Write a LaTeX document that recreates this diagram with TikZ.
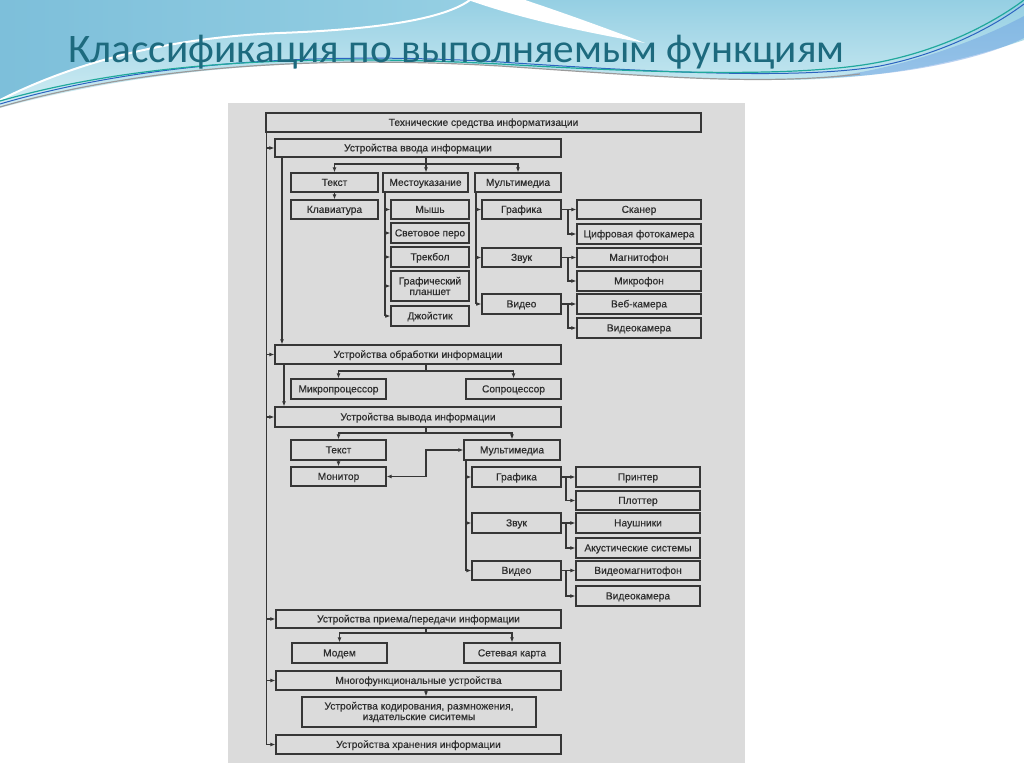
\documentclass[tikz,border=0pt]{standalone}
\usepackage{fontspec}
\setmainfont{Liberation Sans}
\newfontfamily\boxfont[FakeBold=0.4]{Liberation Sans}
\newfontfamily\titlefont{Carlito}
\usetikzlibrary{arrows.meta,calc}
\definecolor{panel}{HTML}{DBDBDB}
\definecolor{ink}{HTML}{363636}
\definecolor{txt}{HTML}{2E2E2E}
\definecolor{titlecol}{HTML}{1D6A7E}
\definecolor{bgdark}{HTML}{7DBFDA}
\definecolor{bgdark2}{HTML}{95CFE3}
\definecolor{bglight}{HTML}{B4E2EC}
\definecolor{wteal}{HTML}{20A89C}
\definecolor{wblue}{HTML}{2C63C0}
\definecolor{wgray}{HTML}{9A9A9A}
\begin{document}
\begin{tikzpicture}[x=1pt,y=-1pt,
  bx/.style={draw=ink, line width=1.25pt, fill=panel, inner sep=1pt, text=txt,
    font=\boxfont\fontsize{10.2}{10.5}\selectfont, text height=8.4pt, text depth=1.6pt},
  bx2/.style={draw=ink, line width=1.25pt, fill=panel, inner sep=1pt, text=txt,
    font=\boxfont\fontsize{10.2}{10.5}\selectfont, align=center},
  ln/.style={draw=ink, line width=1.2pt},
  arr/.style={ln, -{Latex[length=5pt,width=4pt]}},
  darr/.style={ln, {Latex[length=5pt,width=4pt]}-{Latex[length=5pt,width=4pt]}}]
\useasboundingbox (0,0) rectangle (1024,767);
\fill[white] (0,0) rectangle (1024,767);
% background decoration
\shade[top color=bgdark2, bottom color=bglight!60!white]
  (0,0) -- (1024,0) -- (1024,40) .. controls (960,62) and (880,80) .. (780,80)
  .. controls (650,80) and (520,64) .. (420,62) .. controls (250,60) and (120,76) .. (0,108) -- cycle;
\fill[white] (468,0) .. controls (525,20) and (585,32) .. (645,43)
  .. controls (595,24) and (555,10) .. (525,0) -- cycle;
\shade[left color=bgdark, right color=bgdark2]
  (0,0) -- (470,0) .. controls (440,22) and (360,30) .. (280,33)
  .. controls (160,38) and (70,65) .. (0,100) -- cycle;
\draw[white, line width=2pt] (470,0) .. controls (440,22) and (360,30) .. (280,33)
  .. controls (160,38) and (70,65) .. (0,100);
\fill[bgdark!80!blue, opacity=0.45] (820,78) .. controls (900,70) and (980,40) .. (1024,16)
  -- (1024,38) .. controls (980,60) and (900,76) .. (820,78) -- cycle;
\draw[wgray, line width=1.2pt] (0,107) .. controls (150,64) and (330,56) .. (500,66)
  .. controls (650,76) and (760,86) .. (860,74);
\draw[wblue, line width=1pt] (0,104) .. controls (150,60) and (330,52) .. (500,62)
  .. controls (650,72) and (800,80) .. (880,66) .. controls (950,52) and (1000,22) .. (1024,4);
\draw[wteal, line width=1.2pt] (0,101) .. controls (150,58) and (330,55) .. (500,64)
  .. controls (650,73) and (800,78) .. (880,62) .. controls (950,48) and (1000,18) .. (1024,0);
% title
\node[anchor=base west, text=titlecol, inner sep=0pt, xscale=1.02,
  font=\titlefont\fontsize{40.5}{40.5}\selectfont] (title) at (68,63) {Классификация по выполняемым функциям};
% panel
\fill[panel] (228,103) rectangle (745,763);
% boxes
\node[bx, minimum width=435, minimum height=19] (top) at (483.5,122.5) {Технические средства информатизации};
\node[bx, minimum width=286, minimum height=18] (vvod) at (418,148) {Устройства ввода информации};
\node[bx, minimum width=87, minimum height=19] (tekst1) at (334.5,182.5) {Текст};
\node[bx, minimum width=85, minimum height=19] (mesto) at (425.5,182.5) {Местоуказание};
\node[bx, minimum width=86, minimum height=19] (multi1) at (518,182.5) {Мультимедиа};
\node[bx, minimum width=87, minimum height=19] (klav) at (334.5,209.5) {Клавиатура};
\node[bx, minimum width=78, minimum height=19] (mysh) at (430,209.5) {Мышь};
\node[bx, minimum width=78, minimum height=20] (pero) at (430,233) {Световое перо};
\node[bx, minimum width=78, minimum height=20] (trek) at (430,257) {Трекбол};
\node[bx2, minimum width=78, minimum height=30] (plansh) at (430,286) {Графический\\планшет};
\node[bx, minimum width=78, minimum height=20] (joy) at (430,316) {Джойстик};
\node[bx, minimum width=79, minimum height=19] (graf1) at (521.5,209.5) {Графика};
\node[bx, minimum width=79, minimum height=19] (zvuk1) at (521.5,257.5) {Звук};
\node[bx, minimum width=79, minimum height=20] (video1) at (521.5,304) {Видео};
\node[bx, minimum width=124, minimum height=19] (scan) at (639,209.5) {Сканер};
\node[bx, minimum width=124, minimum height=20] (foto) at (639,234) {Цифровая фотокамера};
\node[bx, minimum width=124, minimum height=19] (magn) at (639,257.5) {Магнитофон};
\node[bx, minimum width=124, minimum height=20] (mikr) at (639,281) {Микрофон};
\node[bx, minimum width=124, minimum height=20] (web) at (639,304) {Веб-камера};
\node[bx, minimum width=124, minimum height=20] (vcam1) at (639,328) {Видеокамера};
\node[bx, minimum width=286, minimum height=19] (obr) at (418,354.5) {Устройства обработки информации};
\node[bx, minimum width=95, minimum height=20] (mp) at (338.5,389) {Микропроцессор};
\node[bx, minimum width=95, minimum height=20] (sp) at (513.5,389) {Сопроцессор};
\node[bx, minimum width=286, minimum height=20] (vyv) at (418,417) {Устройства вывода информации};
\node[bx, minimum width=95, minimum height=20] (tekst2) at (338.5,450) {Текст};
\node[bx, minimum width=96, minimum height=20] (multi2) at (512,450) {Мультимедиа};
\node[bx, minimum width=95, minimum height=19] (mon) at (338.5,476.5) {Монитор};
\node[bx, minimum width=89, minimum height=20] (graf2) at (516.5,477) {Графика};
\node[bx, minimum width=124, minimum height=20] (printer) at (638,477) {Принтер};
\node[bx, minimum width=124, minimum height=19] (plot) at (638,500.5) {Плоттер};
\node[bx, minimum width=89, minimum height=20] (zvuk2) at (516.5,523) {Звук};
\node[bx, minimum width=124, minimum height=20] (naush) at (638,523) {Наушники};
\node[bx, minimum width=124, minimum height=20] (akust) at (638,548) {Акустические системы};
\node[bx, minimum width=89, minimum height=19] (video2) at (516.5,570.5) {Видео};
\node[bx, minimum width=124, minimum height=19] (vmag) at (638,570.5) {Видеомагнитофон};
\node[bx, minimum width=124, minimum height=20] (vcam2) at (638,596) {Видеокамера};
\node[bx, minimum width=285, minimum height=18] (priem) at (418.5,619) {Устройства приема/передачи информации};
\node[bx, minimum width=95, minimum height=20] (modem) at (339.5,653) {Модем};
\node[bx, minimum width=96, minimum height=20] (set) at (512,653) {Сетевая карта};
\node[bx, minimum width=285, minimum height=19] (mnog) at (418.5,680.5) {Многофункциональные устройства};
\node[bx2, minimum width=234, minimum height=30] (kod) at (419,712) {Устройства кодирования, размножения,\\издательские сиситемы};
\node[bx, minimum width=285, minimum height=19] (hran) at (418.5,744.5) {Устройства хранения информации};
% junction coordinates
\coordinate (t0) at (266.5,132);
\coordinate (s0) at (282,157);
\coordinate (s1) at (284,364);
\coordinate (b1) at (426,164);
\coordinate (m0) at (385,192);
\coordinate (u0) at (476,192);
\coordinate (g1) at (568,209.5);
\coordinate (z1) at (568,257.5);
\coordinate (v1) at (568,304);
\coordinate (b2) at (426,371);
\coordinate (b3) at (426,433);
\coordinate (k0) at (426,476.5);
\coordinate (u1) at (466,460);
\coordinate (g2) at (566,477);
\coordinate (z2) at (566,523);
\coordinate (v2) at (566,570.5);
\coordinate (b4) at (426,633);
% main trunk
\draw[ln] (t0) -- (t0 |- hran.west);
\foreach \n in {vvod,obr,vyv,priem,mnog,hran}
  \draw[arr] (t0 |- \n.west) -- (\n.west);
\draw[arr] (s0) -- (s0 |- obr.north);
\draw[arr] (s1) -- (s1 |- vyv.north);
% input devices
\draw[ln] (b1 |- vvod.south) -- (b1);
\draw[arr] (b1) -| (tekst1.north);
\draw[arr] (b1) -- (b1 |- mesto.north);
\draw[arr] (b1) -| (multi1.north);
\draw[arr] (tekst1) -- (klav);
\draw[ln] (m0) -- (m0 |- joy.west);
\foreach \n in {mysh,pero,trek,plansh,joy}
  \draw[arr] (m0 |- \n.west) -- (\n.west);
\draw[ln] (u0) -- (u0 |- video1.west);
\foreach \n in {graf1,zvuk1,video1}
  \draw[arr] (u0 |- \n.west) -- (\n.west);
\draw[arr] (graf1.east) -- (scan.west);
\draw[arr] (g1) |- (foto.west);
\draw[arr] (zvuk1.east) -- (magn.west);
\draw[arr] (z1) |- (mikr.west);
\draw[arr] (video1.east) -- (web.west);
\draw[arr] (v1) |- (vcam1.west);
% processing
\draw[ln] (b2 |- obr.south) -- (b2);
\draw[arr] (b2) -| (mp.north);
\draw[arr] (b2) -| (sp.north);
% output
\draw[ln] (b3 |- vyv.south) -- (b3);
\draw[arr] (b3) -| (tekst2.north);
\draw[arr] (b3) -| (multi2.north);
\draw[arr] (tekst2) -- (mon);
\draw[darr] (mon.east) -- (k0) |- (multi2.west);
\draw[ln] (u1) -- (u1 |- video2.west);
\foreach \n in {graf2,zvuk2,video2}
  \draw[arr] (u1 |- \n.west) -- (\n.west);
\draw[arr] (graf2.east) -- (printer.west);
\draw[arr] (g2) |- (plot.west);
\draw[arr] (zvuk2.east) -- (naush.west);
\draw[arr] (z2) |- (akust.west);
\draw[arr] (video2.east) -- (vmag.west);
\draw[arr] (v2) |- (vcam2.west);
% transfer
\draw[ln] (b4 |- priem.south) -- (b4);
\draw[arr] (b4) -| (modem.north);
\draw[arr] (b4) -| (set.north);
% multifunctional
\draw[arr] (b4 |- mnog.south) -- (b4 |- kod.north);
\end{tikzpicture}
\end{document}
